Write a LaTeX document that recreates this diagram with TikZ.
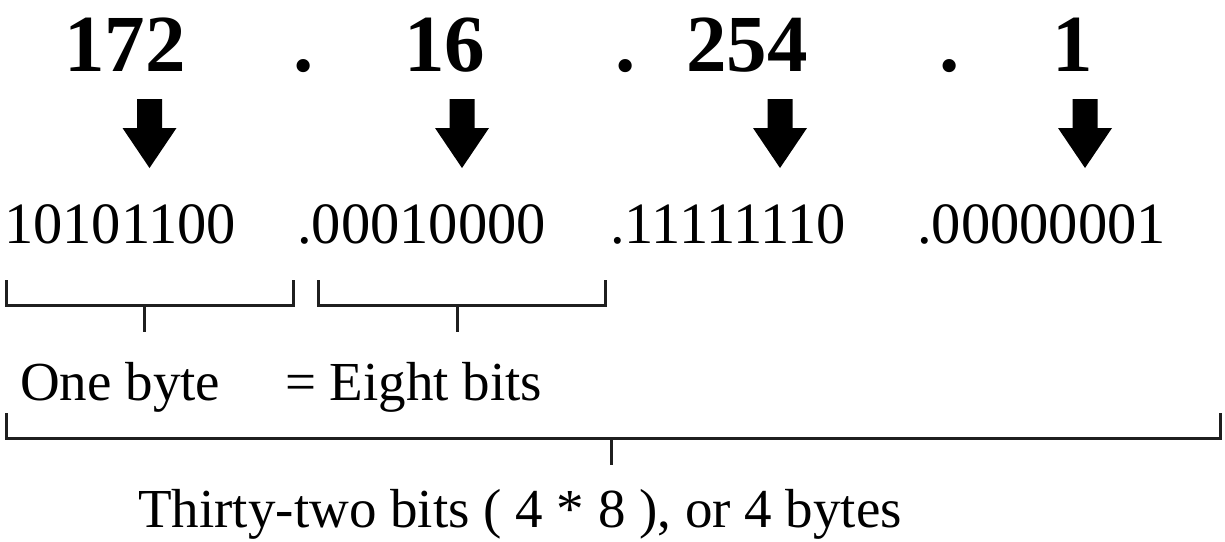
\documentclass[tikz,border=0pt]{standalone}
\usepackage{fontspec}
\setmainfont{Liberation Serif}
\begin{document}
\begin{tikzpicture}[x=1pt,y=-1pt,
  big/.style={font=\fontsize{81}{90}\selectfont\bfseries, inner sep=0pt, anchor=base west},
  bin/.style={font=\fontsize{58.5}{62}\selectfont, inner sep=0pt, anchor=base west},
  lbl/.style={font=\fontsize{55}{60}\selectfont, inner sep=0pt, anchor=base west},
  brk/.style={line width=3pt, line join=miter, draw=black!88},
  tick/.style={line width=3pt, draw=black!88}]
\useasboundingbox (0,0) rectangle (1225,541);
% top numbers
\node[big] (n1) at (64,71) {172};
\node[big] (d1) at (293,71) {.};
\node[big] (n2) at (404,71) {16};
\node[big] (d2) at (615,71) {.};
\node[big] (n3) at (686,71) {254};
\node[big] (d3) at (939,71) {.};
\node[big] (n4) at (1052,71) {1};
% binary row
\node[bin] (b1) at (4,243) {10101100};
\node[bin] (b2) at (297,243) {.00010000};
\node[bin] (b3) at (610,243) {.11111110};
\node[bin] (b4) at (917,243) {.00000001};
% labels
\node[lbl] (l1) at (20,400) {One byte};
\node[lbl] (l2) at (285,400) {= Eight bits};
\node[lbl] (l3) at (138,527) {Thirty-two bits ( 4 * 8 ), or 4 bytes};
% fat arrows
\coordinate (a1) at (149.5,99);
\coordinate (a2) at (462,99);
\coordinate (a3) at (780,99);
\coordinate (a4) at (1085,99);
\foreach \a in {a1,a2,a3,a4}
  \fill[black] (\a) ++(-12.5,0) -- ++(25,0) -- ++(0,29) -- ++(14.5,0) -- ++(-27,40) -- ++(-27,-40) -- ++(14.5,0) -- cycle;
% brackets
\coordinate (k1l) at (6,280);   \coordinate (k1r) at (293,280);
\coordinate (k2l) at (318,280); \coordinate (k2r) at (605,280);
\coordinate (k3l) at (6,413);   \coordinate (k3r) at (1220,413);
\draw[brk] (k1l) -- ++(0,25) -| (k1r);
\draw[brk] (k2l) -- ++(0,25) -| (k2r);
\draw[brk] (k3l) -- ++(0,25) -| (k3r);
\coordinate (t1) at (144,305);
\coordinate (t2) at (457,305);
\coordinate (t3) at (611,438);
\draw[tick] (t1) -- ++(0,27);
\draw[tick] (t2) -- ++(0,27);
\draw[tick] (t3) -- ++(0,27);
\end{tikzpicture}
\end{document}
